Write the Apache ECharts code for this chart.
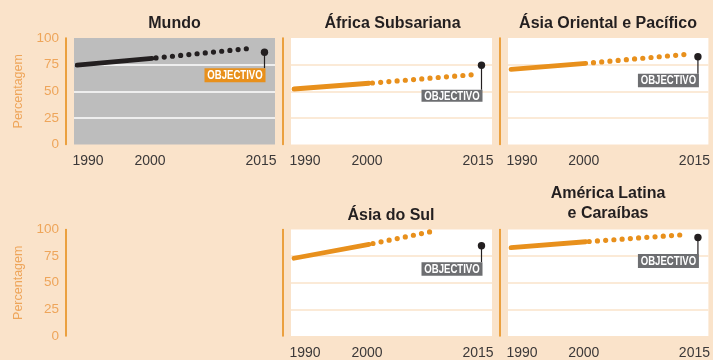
<!DOCTYPE html>
<html>
<head>
<meta charset="utf-8">
<script src="https://cdn.jsdelivr.net/npm/echarts@6/dist/echarts.min.js"></script>
<style>
  html, body { margin: 0; padding: 0; background: #fae3ca; }
  #chart { width: 713px; height: 360px; }
</style>
</head>
<body>
<div id="chart"></div>
<script>
// Net primary enrolment by region: observed 1990-2000, trend after 2000, 2015 target
const regions = ['Mundo', 'África Subsariana', 'Ásia Oriental e Pacífico', 'Ásia do Sul', 'América Latina\ne Caraíbas'];
const value1990 = [74.6, 52.1, 70.6, 73.0, 82.9];
const value2000 = [80.9, 57.5, 76.2, 86.1, 88.5];
const trendEndYear = [2012.7, 2013.7, 2013.5, 2008.2, 2013.5];
const trendEndValue = [90.0, 65.5, 84.7, 97.9, 95.3];
const target2015 = [86.6, 74.4, 82.4, 84.8, 92.5];
const targetLabel = 'OBJECTIVO';
const yTicks = [0, 25, 50, 75, 100];
const xTickYears = [1990, 2000, 2015];
const yAxisName = 'Percentagem';

const ORANGE = '#e8901c';
const PEACH = '#fae3ca';
const DARK = '#231f20';
const FONT = '"Liberation Sans", Arial, sans-serif';

// Panel layout (pixels) and styling
const PW = 201, PH = 106.5;
const panels = [
  { left: 74,  top: 38,    bg: '#bdbdbd', gridColor: '#ffffff', line: DARK,   tag: ORANGE,    stem: 16,   boxH: 14,   phase: 4.2, titleX: 174.5, titleTop: 14 },
  { left: 291, top: 38,    bg: '#ffffff', gridColor: PEACH,     line: ORANGE, tag: '#6d6e71', stem: 24.5, boxH: 12,   phase: 4.8, titleX: 392.5, titleTop: 14 },
  { left: 508, top: 38,    bg: '#ffffff', gridColor: PEACH,     line: ORANGE, tag: '#6d6e71', stem: 17,   boxH: 13.5, phase: 0.5, titleX: 608,   titleTop: 14 },
  { left: 291, top: 229.5, bg: '#ffffff', gridColor: PEACH,     line: ORANGE, tag: '#6d6e71', stem: 16.5, boxH: 13.5, phase: 4.2, titleX: 391,   titleTop: 206 },
  { left: 508, top: 229.5, bg: '#ffffff', gridColor: PEACH,     line: ORANGE, tag: '#6d6e71', stem: 16.5, boxH: 14,   phase: 4.8, titleX: 608,   titleTop: 183.5 }
];
// Axis-only panel on the lower left (no data)
const axisOnly = { left: 74, top: 229.5 };

const X_MIN = 1989.6, X_MAX = 2016.4;

// Shift for each year label (left / right padding)
const labelPad = { 1990: [0, 0, 0, 22], 2000: [0, 4, 0, 0], 2015: [0, 7, 0, 0] };
const richYears = {};
xTickYears.forEach(y => {
  richYears['y' + y] = { padding: labelPad[y], color: '#3b3838', fontSize: 14, fontFamily: FONT };
});

function targetRenderer(p) {
  return function (params, api) {
    const pt = api.coord([api.value(0), api.value(1)]);
    const w = 61, h = p.boxH;
    const top = pt[1] + p.stem;
    return {
      type: 'group',
      children: [
        { type: 'line', shape: { x1: pt[0], y1: pt[1], x2: pt[0], y2: top }, style: { stroke: DARK, lineWidth: 1.2 } },
        { type: 'rect', shape: { x: pt[0] - w + 1, y: top, width: w, height: h }, style: { fill: p.tag } },
        { type: 'text', x: pt[0] - w / 2 + 1, y: top + h / 2 + 0.5, scaleX: 0.8,
          style: { text: targetLabel, x: 0, y: 0, align: 'center', verticalAlign: 'middle',
            fill: '#ffffff', font: 'bold 12px "Liberation Sans", Arial, sans-serif' } },
        { type: 'circle', shape: { cx: pt[0], cy: pt[1], r: 3.7 }, style: { fill: DARK } }
      ]
    };
  };
}

const grid = [], xAxis = [], yAxis = [], series = [], title = [];

function yAxisFor(idx, withLabels, p) {
  return {
    gridIndex: idx, type: 'value', min: yTicks[0], max: yTicks[yTicks.length - 1], interval: 25, offset: 8,
    axisLine: { show: true, lineStyle: { color: ORANGE, width: 1.6 } },
    axisTick: { show: false },
    axisLabel: { show: withLabels, color: '#eea55a', fontSize: 13.5, fontFamily: FONT, margin: 7 },
    splitLine: p ? { show: true, showMinLine: false, showMaxLine: false, lineStyle: { color: p.gridColor, width: 1.6 } } : { show: false },
    name: withLabels ? yAxisName : '', nameLocation: 'middle', nameRotate: 90, nameGap: 41,
    nameTextStyle: { color: '#eea55a', fontSize: 12.5, fontFamily: FONT }
  };
}

panels.forEach((p, i) => {
  grid.push({ left: p.left, top: p.top, width: PW, height: PH, show: true, backgroundColor: p.bg, borderWidth: 0 });
  xAxis.push({
    gridIndex: i, type: 'value', min: X_MIN, max: X_MAX,
    axisLine: { show: false }, axisTick: { show: false }, splitLine: { show: false },
    axisLabel: {
      customValues: xTickYears, margin: 10, color: '#3b3838', fontSize: 14, fontFamily: FONT,
      formatter: v => '{y' + v + '|' + v + '}', rich: richYears
    }
  });
  yAxis.push(yAxisFor(i, i === 0, p));
  series.push({
    type: 'line', xAxisIndex: i, yAxisIndex: i, showSymbol: false, silent: true,
    data: [[1990, value1990[i]], [2000, value2000[i]]],
    lineStyle: { color: p.line, width: 4.8, cap: 'round' }, z: 3
  });
  series.push({
    type: 'line', xAxisIndex: i, yAxisIndex: i, showSymbol: false, silent: true,
    data: [[2000, value2000[i]], [trendEndYear[i], trendEndValue[i]]],
    lineStyle: { color: p.line, width: 5.2, cap: 'round', type: [0, 8.25], dashOffset: p.phase }, z: 3
  });
  series.push({
    type: 'custom', xAxisIndex: i, yAxisIndex: i, clip: false, silent: true,
    data: [[2015, target2015[i]]], renderItem: targetRenderer(p), z: 5
  });
  title.push({
    text: regions[i], left: p.titleX, top: p.titleTop, textAlign: 'center', padding: 0,
    textStyle: { color: DARK, fontSize: 16, fontWeight: 'bold', fontFamily: FONT, lineHeight: 20 }
  });
});

// Lower-left axis
const k = panels.length;
grid.push({ left: axisOnly.left, top: axisOnly.top, width: PW, height: PH, show: false });
xAxis.push({ gridIndex: k, type: 'value', min: X_MIN, max: X_MAX, show: false });
yAxis.push(yAxisFor(k, true, null));

const chart = echarts.init(document.getElementById('chart'), null, { renderer: 'canvas' });
chart.setOption({
  backgroundColor: PEACH,
  animation: false,
  title, grid, xAxis, yAxis, series
});
</script>
</body>
</html>
